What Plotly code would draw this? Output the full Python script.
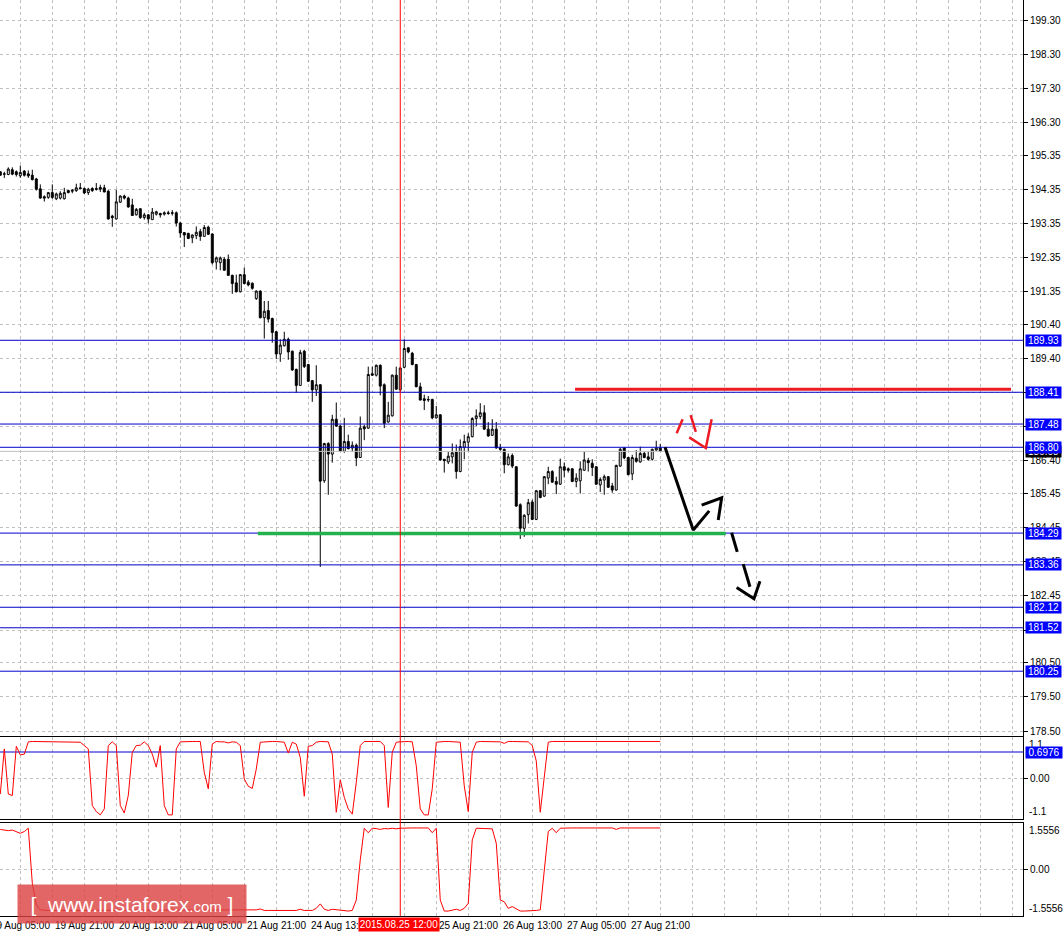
import plotly.graph_objects as go
from plotly.subplots import make_subplots

# H1 bars, index 0 = 19 Aug 08:00 (weekend gap removed, like the terminal does)
bar_index = list(range(166))

opens = [
    194.86, 194.80, 194.78, 194.92, 194.86, 194.74, 194.88, 194.80, 194.76, 194.65,
    194.36, 194.13, 194.11, 194.25, 194.07, 194.09, 194.07, 194.31, 194.29, 194.31,
    194.39, 194.37, 194.25, 194.37, 194.37, 194.40, 194.39, 194.29, 193.56, 193.48,
    193.97, 194.15, 194.09, 193.89, 193.60, 193.78, 193.52, 193.60, 193.46, 193.62,
    193.64, 193.62, 193.66, 193.66, 193.66, 193.36, 193.08, 193.06, 192.93, 192.99,
    193.11, 192.97, 193.24, 193.04, 192.22, 192.20, 192.30, 192.30, 191.83, 191.61,
    191.35, 191.85, 191.63, 191.60, 191.15, 191.37, 190.59, 190.80, 190.57, 190.18,
    189.53, 189.77, 189.96, 189.61, 189.08, 188.61, 189.61, 189.22, 188.75, 188.48,
    188.63, 185.82, 186.91, 186.60, 187.62, 187.42, 186.68, 186.97, 186.78, 186.86,
    186.50, 187.40, 187.36, 188.95, 188.91, 189.20, 188.63, 187.54, 187.72, 188.91,
    188.48, 189.14, 189.71, 189.55, 189.22, 188.57, 188.22, 188.20, 188.20, 187.66,
    187.75, 186.45, 186.37, 186.52, 186.66, 186.09, 186.80, 186.95, 187.11, 187.64,
    187.70, 187.81, 187.33, 187.15, 187.33, 186.78, 186.74, 186.29, 186.56, 186.23,
    185.12, 184.43, 184.83, 185.20, 184.69, 185.53, 185.37, 185.90, 186.09, 185.80,
    185.72, 186.23, 186.17, 186.17, 185.80, 185.82, 186.13, 186.41, 186.33, 186.23,
    185.70, 185.84, 185.94, 185.67, 185.55, 186.25, 186.78, 186.50, 186.02, 186.48,
    186.37, 186.62, 186.52, 186.45, 186.72, 186.78,
]
highs = [
    194.88, 194.86, 194.99, 194.99, 194.90, 195.04, 194.91, 194.90, 194.92, 194.68,
    194.49, 194.17, 194.27, 194.49, 194.25, 194.29, 194.39, 194.32, 194.35, 194.51,
    194.53, 194.40, 194.39, 194.41, 194.53, 194.48, 194.48, 194.33, 193.60, 194.33,
    194.17, 194.19, 194.13, 194.07, 193.80, 193.78, 193.66, 193.62, 193.80, 193.72,
    193.66, 193.70, 193.72, 193.74, 193.70, 193.40, 193.09, 193.07, 193.03, 193.26,
    193.19, 193.30, 193.28, 193.06, 192.38, 192.38, 192.36, 192.44, 191.85, 191.85,
    191.87, 192.06, 191.69, 191.62, 191.39, 191.39, 191.08, 191.08, 190.59, 190.20,
    189.96, 190.18, 190.01, 189.63, 189.10, 189.65, 189.65, 189.24, 188.77, 189.20,
    188.65, 186.93, 186.95, 187.75, 188.11, 187.46, 187.66, 187.17, 186.97, 186.91,
    187.70, 187.46, 189.16, 189.16, 189.22, 189.22, 188.67, 188.13, 188.93, 189.16,
    189.14, 189.96, 189.73, 189.59, 189.24, 188.69, 188.34, 188.30, 188.22, 188.01,
    187.77, 186.45, 186.66, 186.91, 186.88, 187.03, 187.17, 187.21, 187.68, 187.91,
    188.09, 188.03, 187.54, 187.62, 187.54, 186.90, 186.76, 186.62, 186.62, 186.25,
    185.16, 184.84, 185.29, 185.27, 185.55, 185.55, 185.96, 186.23, 186.13, 185.94,
    186.47, 186.35, 186.21, 186.19, 186.04, 186.39, 186.68, 186.49, 186.45, 186.25,
    185.92, 186.00, 185.96, 185.76, 186.29, 186.78, 186.80, 186.52, 186.58, 186.72,
    186.82, 186.68, 186.68, 186.76, 186.99, 186.90,
]
lows = [
    194.74, 194.68, 194.76, 194.76, 194.72, 194.68, 194.72, 194.68, 194.61, 194.31,
    194.07, 193.99, 194.07, 194.07, 194.03, 194.05, 194.05, 194.23, 194.23, 194.27,
    194.35, 194.21, 194.18, 194.27, 194.31, 194.27, 194.26, 193.46, 193.25, 193.46,
    193.95, 194.05, 193.81, 193.58, 193.58, 193.48, 193.46, 193.35, 193.46, 193.58,
    193.52, 193.58, 193.60, 193.58, 193.26, 192.93, 192.66, 192.89, 192.77, 192.89,
    192.84, 192.97, 193.01, 192.15, 192.00, 191.98, 191.96, 191.81, 191.29, 191.33,
    191.33, 191.57, 191.51, 191.41, 191.11, 190.57, 189.98, 190.45, 189.86, 189.38,
    189.30, 189.75, 189.36, 189.04, 188.40, 188.61, 189.12, 188.71, 188.13, 188.30,
    183.30, 185.76, 185.41, 186.35, 187.40, 186.67, 186.64, 186.74, 186.66, 186.25,
    186.49, 187.01, 187.34, 188.89, 188.87, 188.32, 187.36, 187.52, 187.70, 188.48,
    188.40, 189.12, 189.55, 189.20, 188.56, 188.18, 187.89, 188.13, 187.62, 187.64,
    186.41, 186.06, 186.31, 186.33, 185.88, 186.07, 186.45, 186.68, 187.09, 187.42,
    187.62, 187.31, 187.11, 187.13, 186.76, 186.70, 186.04, 186.27, 186.19, 185.06,
    184.12, 184.18, 184.57, 184.67, 184.67, 185.31, 185.35, 185.72, 185.76, 185.43,
    185.70, 185.92, 186.06, 185.78, 185.63, 185.45, 186.11, 186.09, 185.96, 185.70,
    185.49, 185.41, 185.61, 185.47, 185.53, 186.23, 186.45, 185.98, 185.84, 186.35,
    186.35, 186.48, 186.41, 186.41, 186.70, 186.66,
]
closes = [
    194.76, 194.79, 194.94, 194.79, 194.78, 194.84, 194.76, 194.74, 194.63, 194.35,
    194.09, 194.09, 194.25, 194.11, 194.21, 194.23, 194.25, 194.25, 194.32, 194.39,
    194.37, 194.24, 194.35, 194.31, 194.35, 194.35, 194.27, 193.48, 193.52, 193.98,
    194.15, 194.09, 193.83, 193.58, 193.76, 193.52, 193.60, 193.48, 193.68, 193.69,
    193.60, 193.66, 193.64, 193.65, 193.36, 193.07, 193.01, 192.91, 193.01, 193.09,
    192.97, 193.23, 193.03, 192.20, 192.34, 192.34, 191.98, 191.83, 191.59, 191.35,
    191.85, 191.59, 191.55, 191.45, 191.37, 190.59, 190.78, 190.55, 190.16, 189.53,
    189.79, 189.96, 189.59, 189.06, 188.61, 189.57, 189.16, 188.73, 188.48, 188.63,
    185.81, 186.91, 186.60, 187.62, 187.42, 186.69, 186.97, 186.76, 186.86, 186.49,
    187.36, 187.34, 188.93, 188.91, 189.20, 188.59, 187.50, 187.74, 188.91, 188.50,
    189.12, 189.69, 189.59, 189.22, 188.57, 188.18, 188.17, 188.19, 187.66, 187.75,
    186.43, 186.41, 186.54, 186.64, 186.09, 186.82, 186.97, 187.11, 187.64, 187.72,
    187.81, 187.33, 187.13, 187.33, 186.78, 186.74, 186.29, 186.52, 186.25, 185.08,
    184.43, 184.81, 185.18, 184.69, 185.53, 185.33, 185.94, 186.09, 185.78, 185.72,
    186.23, 186.13, 186.13, 185.80, 185.90, 186.17, 186.43, 186.35, 186.21, 185.72,
    185.86, 185.94, 185.63, 185.55, 186.27, 186.74, 186.49, 186.00, 186.50, 186.39,
    186.62, 186.50, 186.45, 186.74, 186.78, 186.68,
]

# oscillator panels
osc_fast = [
    -0.43, 0.78, -0.43, -0.47, 0.85, 0.62, 0.64, 0.97, 0.98, 0.98,
    0.98, 0.98, 0.98, 0.98, 0.98, 0.98, 0.98, 0.98, 0.98, 0.97,
    0.96, 0.87, 0.78, -0.74, -0.90, -0.99, -0.83, 0.87, 0.97, 0.87,
    -0.74, -0.94, -0.47, 0.69, 0.87, 0.88, 0.97, 0.87, 0.64, 0.29,
    0.87, -0.74, -0.99, -0.99, 0.78, 0.97, 0.98, 0.98, 0.98, 0.98,
    0.98, 0.15, -0.29, 0.91, 0.98, 0.97, 0.97, 0.94, 0.97, 0.96,
    0.87, -0.03, -0.22, -0.28, 0.24, 0.96, 0.97, 0.98, 0.98, 0.98,
    0.98, 0.96, 0.67, 0.96, 0.91, 0.55, -0.49, 0.85, 0.87, 0.96,
    0.98, 0.98, 0.97, 0.64, -0.92, -0.05, -0.52, -0.83, -0.97, -0.12,
    0.87, 0.98, 0.98, 0.98, 0.98, 0.98, 0.87, -0.79, 0.69, 0.96,
    0.97, 0.98, 0.98, 0.97, 0.33, -0.83, -0.99, -0.99, -0.29, 0.96,
    0.98, 0.98, 0.98, 0.98, 0.98, 0.96, -0.21, -0.90, 0.69, 0.96,
    0.98, 0.98, 0.97, 0.97, 0.97, 0.97, 0.93, 0.98, 0.98, 0.98,
    0.98, 0.98, 0.97, 0.87, 0.46, -0.92, 0.06, 0.96, 0.98, 0.98,
    0.98, 0.98, 0.98, 0.98, 0.98, 0.98, 0.98, 0.98, 0.98, 0.98,
    0.98, 0.98, 0.98, 0.98, 0.96, 0.98, 0.98, 0.98, 0.98, 0.98,
    0.98, 0.98, 0.98, 0.98, 0.98, 0.98,
]
osc_slow = [
    1.34, 1.32, 1.30, 1.32, 1.27, 1.21, 1.27, 1.38, -0.46, -1.19,
    -1.35, -1.37, -1.37, -1.37, -1.37, -1.37, -1.37, -1.37, -1.37, -1.37,
    -1.37, -1.37, -1.37, -1.37, -1.37, -1.37, -1.37, -1.37, -1.37, -1.37,
    -1.37, -1.37, -1.37, -1.37, -1.37, -1.37, -1.37, -1.37, -1.37, -1.37,
    -1.37, -1.37, -1.37, -1.37, -1.37, -1.37, -1.37, -1.37, -1.37, -1.37,
    -1.37, -1.37, -1.37, -1.37, -1.37, -1.37, -1.37, -1.37, -1.37, -1.37,
    -1.37, -1.37, -1.37, -1.37, -1.35, -1.32, -1.37, -1.37, -1.37, -1.37,
    -1.37, -1.37, -1.37, -1.37, -1.37, -1.33, -1.37, -1.37, -1.37, -1.30,
    -1.15, -1.33, -1.37, -1.33, -1.35, -1.35, -1.37, -1.39, -1.37, -1.02,
    0.32, 1.38, 1.23, 1.38, 1.37, 1.34, 1.37, 1.36, 1.38, 1.36,
    1.38, 1.39, 1.39, 1.39, 1.39, 1.39, 1.39, 1.39, 1.23, 1.38,
    -1.02, -1.39, -1.39, -1.37, -1.33, -1.37, -1.30, -1.13, 0.99, 1.38,
    1.38, 1.37, 1.38, 1.36, 0.88, -1.02, -1.08, -1.30, -1.24, -1.33,
    -1.39, -1.39, -1.39, -1.39, -1.37, -1.35, 0.09, 1.27, 1.38, 1.23,
    1.38, 1.39, 1.39, 1.39, 1.39, 1.39, 1.39, 1.39, 1.39, 1.39,
    1.39, 1.39, 1.39, 1.39, 1.34, 1.39, 1.39, 1.39, 1.39, 1.39,
    1.39, 1.39, 1.39, 1.39, 1.39, 1.39,
]

price_ticks = [199.30, 198.30, 197.30, 196.30, 195.35, 194.35, 193.35, 192.35, 191.35,
               190.40, 189.40, 188.40, 187.40, 186.40, 185.45, 184.45, 183.45, 182.45,
               181.45, 180.50, 179.50, 178.50]
# labels fully covered by level boxes in the terminal
hidden_price_ticks = [188.40, 187.40, 181.45]
level_prices = [189.93, 188.41, 187.48, 186.80, 184.29, 183.36, 182.12, 181.52, 180.25]
osc_level = 0.6976
fast_range = [-1.1, 1.1]
slow_range = [-1.5556, 1.5556]

time_tick_bars = [-3, 13, 29, 45, 61, 77, 109, 125, 141, 157]
time_tick_labels = ["19 Aug 05:00", "19 Aug 21:00", "20 Aug 13:00", "21 Aug 05:00",
                    "21 Aug 21:00", "24 Aug 13:00", "25 Aug 21:00",
                    "26 Aug 13:00", "27 Aug 05:00", "27 Aug 21:00"]
grid_bars = list(range(5, 256, 8))
cursor_bar = 100
cursor_label = "2015.08.25 12:00"

# hand drawn objects (bar index, price)
support_x = [64.4, 181.4]
support_y = [184.28, 184.28]
resist_x = [143.7, 252.7]
resist_y = [188.50, 188.50]
arrow_x = [166.2, 173.25, 177.25, None, 175.35, 180.35, 179.5]
arrow_y = [186.80, 184.38, 184.94, None, 185.11, 185.32, 184.67]
dash_arrow_x = [182.85, 184.25, None, 185.75, 187.43, None, 184.1, 188.43, 189.93]
dash_arrow_y = [184.30, 183.74, None, 183.38, 182.72, None, 182.70, 182.37, 182.88]
red_mark_x = [169.1, 170.6, None, 172.6, 173.9, None, 172.25, 176.4, 177.85]
red_mark_y = [187.21, 187.62, None, 187.74, 187.25, None, 187.09, 186.78, 187.62]

X_LO, X_HI = -0.075, 255.7
PRICE_RANGE = [178.354, 199.885]
GRID = "#c0c0c0"
LEVEL_BLUE = "#0000CC"
FONT = "Liberation Sans"


def bar_to_paper(b):
    return (b - X_LO) / (X_HI - X_LO)


def hline_trace(y, color):
    return go.Scatter(x=[X_LO, X_HI], y=[y, y], mode="lines",
                      line=dict(color=color, width=1), hoverinfo="skip")


fig = make_subplots(rows=3, cols=1, shared_xaxes=True, vertical_spacing=0)

fig.add_trace(go.Candlestick(
    x=bar_index, open=opens, high=highs, low=lows, close=closes,
    increasing=dict(line=dict(color="black", width=1), fillcolor="white"),
    decreasing=dict(line=dict(color="black", width=1), fillcolor="black"),
    whiskerwidth=0, hoverinfo="skip",
), row=1, col=1)

# bid line + horizontal levels (drawn over the candles, as objects are in the terminal)
fig.add_trace(hline_trace(closes[-1], GRID), row=1, col=1)
for p in level_prices:
    fig.add_trace(hline_trace(p, LEVEL_BLUE), row=1, col=1)

fig.add_trace(go.Scatter(x=support_x, y=support_y, mode="lines",
                         line=dict(color="#22B14C", width=3.5), hoverinfo="skip"), row=1, col=1)
fig.add_trace(go.Scatter(x=resist_x, y=resist_y, mode="lines",
                         line=dict(color="#ED1C24", width=3), hoverinfo="skip"), row=1, col=1)
fig.add_trace(go.Scatter(x=arrow_x, y=arrow_y, mode="lines",
                         line=dict(color="black", width=3), hoverinfo="skip"), row=1, col=1)
fig.add_trace(go.Scatter(x=dash_arrow_x, y=dash_arrow_y, mode="lines",
                         line=dict(color="black", width=3), hoverinfo="skip"), row=1, col=1)
fig.add_trace(go.Scatter(x=red_mark_x, y=red_mark_y, mode="lines",
                         line=dict(color="#ED1C24", width=2.5), hoverinfo="skip"), row=1, col=1)

fig.add_trace(hline_trace(osc_level, LEVEL_BLUE), row=2, col=1)
fig.add_trace(go.Scatter(x=bar_index, y=osc_fast, mode="lines",
                         line=dict(color="red", width=1), hoverinfo="skip"), row=2, col=1)
fig.add_trace(go.Scatter(x=bar_index, y=osc_slow, mode="lines",
                         line=dict(color="red", width=1), hoverinfo="skip"), row=3, col=1)

# crosshair
fig.add_shape(type="line", xref="x", yref="paper", x0=cursor_bar, x1=cursor_bar,
              y0=0, y1=1, line=dict(color="red", width=1))

annotations = []
# time labels, left aligned at their tick like the terminal
for b, t in zip(time_tick_bars, time_tick_labels):
    annotations.append(dict(xref="paper", yref="paper", x=bar_to_paper(b), y=0,
                            xanchor="left", yanchor="top", xshift=1, yshift=-2,
                            text=t, showarrow=False, font=dict(family=FONT, size=10, color="black")))
annotations.append(dict(xref="paper", yref="paper", x=bar_to_paper(cursor_bar), y=0,
                        xanchor="center", yanchor="top", yshift=-1, xshift=-1, text=cursor_label,
                        showarrow=False, bgcolor="red", borderpad=1, width=78,
                        font=dict(family=FONT, size=10, color="white")))

# price label boxes
annotations.append(dict(xref="paper", yref="y", x=1, y=closes[-1], xanchor="left", xshift=2,
                        text=f"{closes[-1]:.2f}", showarrow=False, bgcolor="black",
                        width=35, height=11, borderpad=0,
                        font=dict(family=FONT, size=10, color="white")))
for p in level_prices:
    annotations.append(dict(xref="paper", yref="y", x=1, y=p, xanchor="left", xshift=2,
                            text=f"{p:.2f}", showarrow=False, bgcolor="#0000FF",
                            width=35, height=11, borderpad=0,
                            font=dict(family=FONT, size=10, color="white")))

# oscillator scale ends
for yref, lo, hi, fmt in (("y2", fast_range[0], fast_range[1], "{:.1f}"),
                          ("y3", slow_range[0], slow_range[1], "{:.4f}")):
    annotations.append(dict(xref="paper", yref=yref, x=1, y=hi, xanchor="left", yanchor="top",
                            xshift=4, text=fmt.format(hi), showarrow=False,
                            font=dict(family=FONT, size=10, color="black")))
    annotations.append(dict(xref="paper", yref=yref, x=1, y=lo, xanchor="left", yanchor="bottom",
                            xshift=4, text=fmt.format(lo), showarrow=False,
                            font=dict(family=FONT, size=10, color="black")))
annotations.append(dict(xref="paper", yref="y2", x=1, y=osc_level, xanchor="left", xshift=2,
                        text=f"{osc_level:.4f}", showarrow=False, bgcolor="#0000FF",
                        width=36, height=11, borderpad=0,
                        font=dict(family=FONT, size=10, color="white")))

# watermark
annotations.append(dict(xref="paper", yref="paper", x=bar_to_paper(4.25), y=0.035,
                        xanchor="left", yanchor="top", width=226, height=36,
                        text="[  www.instaforex<span style='font-size:15px'>.com</span> ]",
                        showarrow=False, bgcolor="rgba(219,64,64,0.8)",
                        font=dict(family=FONT, size=21, color="white")))

axis_common = dict(range=[X_LO, X_HI], tickvals=grid_bars, showticklabels=False, ticks="",
                   showgrid=True, gridcolor=GRID, gridwidth=1, griddash="3px,3px",
                   zeroline=False, showline=True, linecolor="black", linewidth=1,
                   rangeslider=dict(visible=False), fixedrange=True)
fig.update_layout(
    width=1064, height=935,
    margin=dict(l=0, r=41, t=0, b=19),
    paper_bgcolor="white", plot_bgcolor="white",
    showlegend=False,
    font=dict(family=FONT, size=10, color="black"),
    xaxis=dict(axis_common, mirror=False),
    xaxis2=dict(axis_common, mirror=True),
    xaxis3=dict(axis_common, mirror=True),
    yaxis=dict(domain=[0.19651, 1.0], range=PRICE_RANGE, side="right",
               tickvals=price_ticks,
               ticktext=["" if v in hidden_price_ticks else f"{v:.2f}" for v in price_ticks],
               ticks="outside", ticklen=4, tickcolor="black",
               showgrid=True, gridcolor=GRID, griddash="3px,3px", zeroline=False,
               showline=True, linecolor="black", fixedrange=True),
    yaxis2=dict(domain=[0.10590, 0.19541], range=fast_range, side="right",
                tickvals=[0], ticktext=["0.00"], ticks="outside", ticklen=4, tickcolor="black",
                showgrid=True, gridcolor=GRID, griddash="3px,3px", zeroline=False,
                showline=True, linecolor="black", fixedrange=True),
    yaxis3=dict(domain=[0, 0.10153], range=slow_range, side="right",
                tickvals=[0], ticktext=["0.00"], ticks="outside", ticklen=4, tickcolor="black",
                showgrid=True, gridcolor=GRID, griddash="3px,3px", zeroline=False,
                showline=True, linecolor="black", fixedrange=True),
    annotations=annotations,
)

fig.write_html("out.html", config={"displayModeBar": False},
               post_script="document.body.style.margin='0';")
